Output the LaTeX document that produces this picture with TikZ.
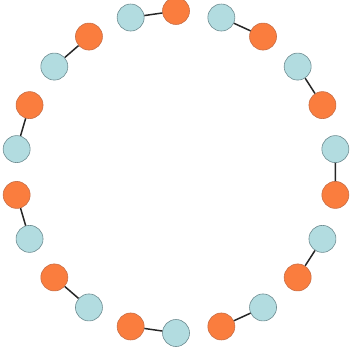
\documentclass[tikz,border=0pt]{standalone}
\definecolor{lblue}{RGB}{178,220,224}
\definecolor{lblueb}{RGB}{110,140,145}
\definecolor{orng}{RGB}{250,125,62}
\definecolor{orngb}{RGB}{200,110,70}
\tikzset{
  bluenode/.style={circle,draw=lblueb,fill=lblue,line width=0.6pt,minimum size=27pt,inner sep=0pt},
  orangenode/.style={circle,draw=orngb,fill=orng,line width=0.6pt,minimum size=27pt,inner sep=0pt},
  link/.style={draw=black!85,line width=1.5pt}
}
\begin{document}
\begin{tikzpicture}[x=1pt,y=-1pt]
\useasboundingbox (0,0) rectangle (349,350);
\foreach \k in {0,...,21}{
  \pgfmathsetmacro{\px}{176+161*cos(90-\k*360/22)}
  \pgfmathsetmacro{\py}{172-161*sin(90-\k*360/22)}
  \pgfmathtruncatemacro{\parity}{mod(\k,2)}
  \ifnum\parity=0
    \node[orangenode] (n\k) at (\px,\py) {};
  \else
    \node[bluenode] (n\k) at (\px,\py) {};
  \fi
}
\foreach \a/\b in {1/2,3/4,5/6,7/8,9/10,11/12,13/14,15/16,17/18,19/20,21/0}{
  \draw[link] (n\a) -- (n\b);
}
\end{tikzpicture}
\end{document}
